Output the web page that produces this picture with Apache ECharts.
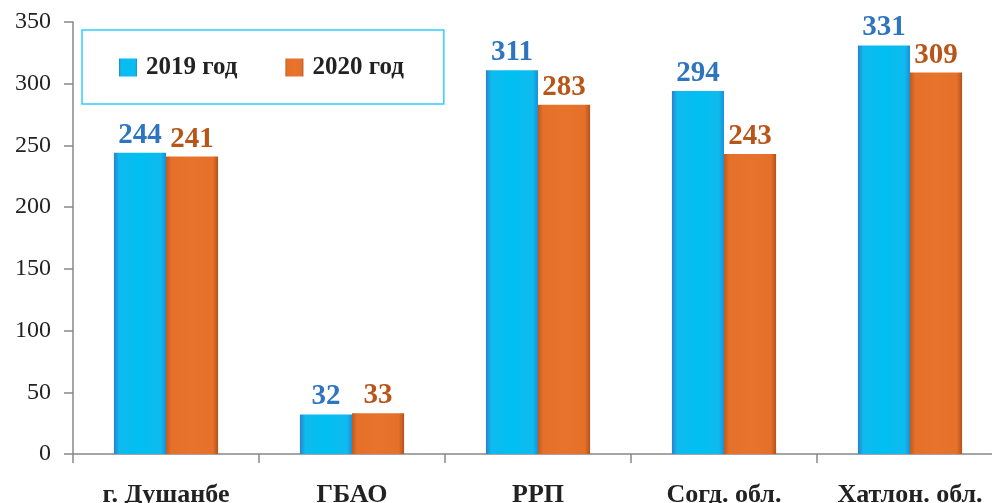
<!DOCTYPE html>
<html><head><meta charset="utf-8">
<script src="https://cdn.jsdelivr.net/npm/echarts@6/dist/echarts.min.js"></script>
<style>html,body{margin:0;padding:0;background:#fff}#c{width:992px;height:503px}</style>
</head><body><div id="c"></div>
<script>
const categories = ['г. Душанбе', 'ГБАО', 'РРП', 'Согд. обл.', 'Хатлон. обл.'];
const values2019 = [244, 32, 311, 294, 331];
const values2020 = [241, 33, 283, 243, 309];
const seriesNames = ['2019 год', '2020 год'];

const serif = '"Liberation Serif", "DejaVu Serif", serif';
const blueGrad = new echarts.graphic.LinearGradient(0,0,1,0,[
  {offset:0,color:'#2a7fcc'},{offset:0.1,color:'#0fbaee'},{offset:0.5,color:'#00bff2'},{offset:0.9,color:'#0fbaee'},{offset:1,color:'#1b8fd6'}]);
const orangeGrad = new echarts.graphic.LinearGradient(0,0,1,0,[
  {offset:0,color:'#c05a1c'},{offset:0.1,color:'#e5702a'},{offset:0.5,color:'#e8732b'},{offset:0.9,color:'#e5702a'},{offset:1,color:'#b3521a'}]);

const chart = echarts.init(document.getElementById('c'));
chart.setOption({
  animation:false,
  grid:{left:73, top:22, bottom:49, right:-11, containLabel:false, outerBoundsMode:'none'},
  legend:{
    left:82, top:30, orient:'horizontal',
    padding:[25,40,24,37],
    borderColor:'#33ccff', borderWidth:1.5,
    itemWidth:18, itemHeight:18, itemGap:48,
    textStyle:{fontFamily:serif, fontWeight:'bold', fontSize:25, color:'#222', padding:[0,0,0,4]},
    data:[{name:seriesNames[0], icon:'rect'},{name:seriesNames[1], icon:'rect'}]
  },
  xAxis:{
    type:'category', data:categories,
    axisLine:{lineStyle:{color:'#888',width:1.5}},
    axisTick:{show:true, length:9, lineStyle:{color:'#888',width:1.5}},
    axisLabel:{interval:0, margin:28, fontFamily:serif, fontWeight:'bold', fontSize:26, color:'#222'}
  },
  yAxis:{
    type:'value', min:0, max:350, interval:50,
    splitLine:{show:false},
    axisLine:{show:true, lineStyle:{color:'#888',width:1.5}},
    axisTick:{show:true, length:9, lineStyle:{color:'#888',width:1.5}},
    axisLabel:{margin:22, fontFamily:serif, fontSize:24, color:'#222'}
  },
  series:[
    {name:seriesNames[0], type:'bar', data:values2019, barGap:'0%', barCategoryGap:'44%',
     itemStyle:{color:blueGrad},
     label:{show:true, position:'top', distance:3, fontFamily:serif, fontWeight:'bold', fontSize:29, color:'#2e75c0'}},
    {name:seriesNames[1], type:'bar', data:values2020,
     itemStyle:{color:orangeGrad},
     label:{show:true, position:'top', distance:3, fontFamily:serif, fontWeight:'bold', fontSize:29, color:'#b8561a'}}
  ]
});
</script></body></html>
